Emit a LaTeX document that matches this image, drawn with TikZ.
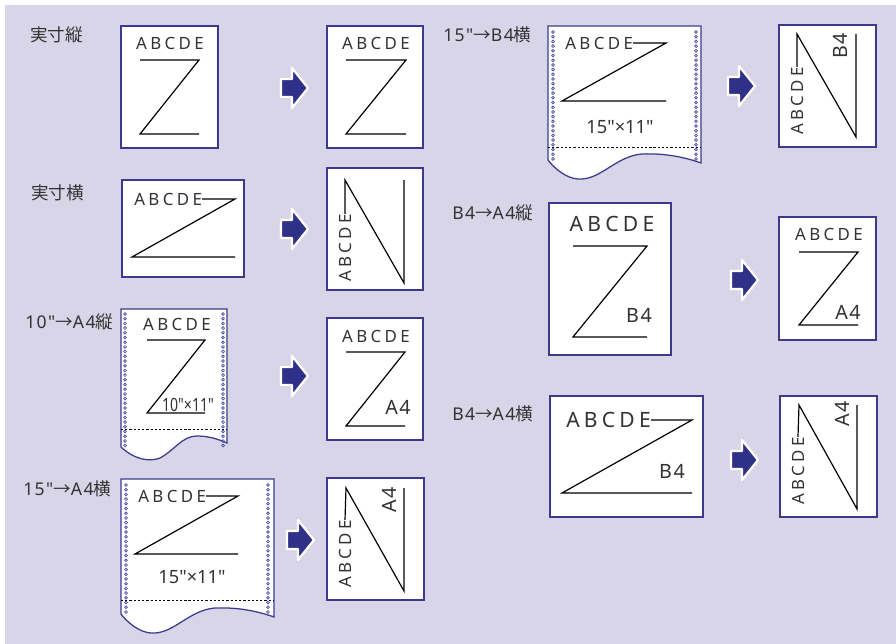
\documentclass[tikz,border=0pt]{standalone}
\usepackage{fontspec}
\setmainfont{Noto Sans CJK JP}
\newfontfamily\latinspaced[LetterSpace=20]{Noto Sans}
\newfontfamily\latinlabel[LetterSpace=8]{Noto Sans}
\newfontfamily\latinplain{Noto Sans}
\usetikzlibrary{positioning}
\definecolor{panelbg}{HTML}{D9D5E8}
\definecolor{sheetframe}{HTML}{3B3A8E}
\definecolor{arrowblue}{HTML}{2F3188}
\definecolor{holeblue}{HTML}{4A4AA8}
\definecolor{inkgray}{HTML}{333333}
\tikzset{
  sheet/.style={draw=sheetframe,fill=white,line width=0.9pt},
  zstroke/.style={line width=0.85pt,black},
  fold/.style={line width=0.6pt,dash pattern=on 1.6pt off 1.4pt},
  hole/.style={draw=holeblue,line width=0.5pt},
  fwd/.style={fill=arrowblue,draw=white,line width=1.6pt,line join=round},
  tag/.style={font=\fontsize{12.5}{14}\selectfont,text=inkgray,inner sep=0pt},
  abc/.style={font=\latinspaced\fontsize{12}{14}\selectfont,text=inkgray,inner sep=0pt},
  abcbig/.style={font=\latinspaced\fontsize{15}{17}\selectfont,text=inkgray,inner sep=0pt},
  papersize/.style={font=\latinlabel\fontsize{14}{16}\selectfont,text=inkgray,inner sep=0pt},
  inch/.style={font=\latinplain\fontsize{13}{15}\selectfont,text=inkgray,inner sep=0pt},
}
\newcommand{\pagearrow}[2]{\draw[fwd] (#1,#2-9) -- ++(11,0) -- ++(0,-11) -- (#1+27,#2) -- (#1+11,#2+20) -- ++(0,-11) -- (#1,#2+9) -- cycle;}

\begin{document}
\begin{tikzpicture}[x=0.025cm,y=-0.025cm]
\useasboundingbox (0,0) rectangle (896,644);
\fill[panelbg] (5,5) rectangle (896,644);

% 実寸縦
\node[tag,anchor=west] (lblReal) at (30,35) {実寸縦};
\draw[sheet] (121,26) rectangle (218,148);
\node[abc] (abcRealIn) at (170,43) {ABCDE};
\draw[zstroke] (140,60) -- (199,60) -- (140,134) -- (199,134);
\pagearrow{281}{88}
\draw[sheet] (327,26) rectangle (423,148);
\node[abc] (abcRealOut) at (376,43) {ABCDE};
\draw[zstroke] (346,60) -- (406,60) -- (346,134) -- (406,134);

% 実寸横
\node[tag,anchor=west] (lblRealLand) at (31,193) {実寸横};
\draw[sheet] (122,180) rectangle (244,277);
\node[abc,anchor=west] (abcLandIn) at (134,199) {ABCDE};
\draw[zstroke] (abcLandIn.east) -- (235,199) -- (132,257) -- (235,257);
\pagearrow{281}{229}
\draw[sheet] (327,168) rectangle (423,290);
\node[abc,rotate=90,anchor=west] (abcLandOut) at (345,282) {ABCDE};
\draw[zstroke] (abcLandOut.east) -- (345,180) -- (404,283) -- (404,180);

% 10"→A4縦 (fanfold sheet)
\node[tag,anchor=west] (lblTenA4) at (25,322) {{\latinlabel 10"}→{\latinlabel A4}縦};
\draw[sheet] (121,309) -- (121,447) .. controls (135,460) and (150,462) .. (160,458) .. controls (175,450) and (182,436) .. (197,436) .. controls (210,436) and (220,440) .. (227,443) -- (227,309) -- cycle;
\foreach \k in {0,...,28} {\draw[hole] (125,314+4.7*\k) circle (1.4); \draw[hole] (223,314+4.7*\k) circle (1.4);}
\draw[fold] (121,429) -- (227,429);
\node[abc] (abcTenIn) at (177,324) {ABCDE};
\draw[zstroke] (147,340) -- (205,340) -- (147,413) -- (205,413);
\node[inch,anchor=south] (szTen) at (188,412) {\scalebox{0.77}[1]{10"×11"}};
\pagearrow{281}{376}
\draw[sheet] (327,318) rectangle (423,440);
\node[abc] (abcTenOut) at (376,336) {ABCDE};
\draw[zstroke] (346,352) -- (405,352) -- (346,426) -- (405,426);
\node[papersize] (szTenOut) at (398,407) {A4};

% 15"→A4横 (fanfold sheet)
\node[tag,anchor=west] (lblFifA4) at (23,489) {{\latinlabel 15"}→{\latinlabel A4}横};
\draw[sheet] (121,479) -- (121,614) .. controls (132,628) and (145,634) .. (155,633) .. controls (175,632) and (190,610) .. (215,608) .. controls (240,607) and (260,612) .. (274,617) -- (274,479) -- cycle;
\foreach \k in {0,...,27} {\draw[hole] (126,485+4.7*\k) circle (1.4); \draw[hole] (268,485+4.7*\k) circle (1.4);}
\draw[fold] (121,600) -- (274,600);
\node[abc,anchor=west] (abcFifIn) at (138,496) {ABCDE};
\draw[zstroke] (abcFifIn.east) -- (238,496) -- (135,554) -- (238,554);
\node[inch] (szFif) at (192,577) {15"×11"};
\pagearrow{287}{540}
\draw[sheet] (327,478) rectangle (424,600);
\node[abc,rotate=90,anchor=west] (abcFifOut) at (345,588) {ABCDE};
\draw[zstroke] (abcFifOut.east) -- (346,488) -- (404,591) -- (404,488);
\node[papersize,rotate=90] (szFifOut) at (389,500) {A4};

% 15"→B4横 (fanfold sheet)
\node[tag,anchor=west] (lblFifB4) at (443,35) {{\latinlabel 15"}→{\latinlabel B4}横};
\draw[sheet] (548,26) -- (548,160) .. controls (559,174) and (572,180) .. (582,179) .. controls (602,178) and (617,156) .. (642,154) .. controls (667,153) and (687,158) .. (701,163) -- (701,26) -- cycle;
\foreach \k in {0,...,27} {\draw[hole] (553,32+4.7*\k) circle (1.4); \draw[hole] (696,32+4.7*\k) circle (1.4);}
\draw[fold] (548,147) -- (701,147);
\node[abc,anchor=west] (abcB4In) at (565,43) {ABCDE};
\draw[zstroke] (abcB4In.east) -- (666,43) -- (562,101) -- (666,101);
\node[inch] (szB4) at (620,127) {15"×11"};
\pagearrow{728}{86}
\draw[sheet] (779,25) rectangle (876,147);
\node[abc,rotate=90,anchor=west] (abcB4Out) at (797,135) {ABCDE};
\draw[zstroke] (abcB4Out.east) -- (797,34) -- (856,137) -- (856,34);
\node[papersize,rotate=90] (szB4Out) at (840,46) {B4};

% B4→A4縦
\node[tag,anchor=west] (lblB4Port) at (452,213) {{\latinlabel B4}→{\latinlabel A4}縦};
\draw[sheet] (549,203) rectangle (671,355);
\node[abcbig] (abcBPIn) at (612,224) {ABCDE};
\draw[zstroke] (573,246) -- (647,246) -- (573,337) -- (647,337);
\node[papersize] (szBPIn) at (639,315) {B4};
\pagearrow{731}{280}
\draw[sheet] (779,217) rectangle (876,340);
\node[abc] (abcBPOut) at (829,234) {ABCDE};
\draw[zstroke] (799,252) -- (858,252) -- (799,325) -- (858,325);
\node[papersize] (szBPOut) at (848,312) {A4};

% B4→A4横
\node[tag,anchor=west] (lblB4Land) at (452,414) {{\latinlabel B4}→{\latinlabel A4}横};
\draw[sheet] (550,396) rectangle (703,517);
\node[abcbig,anchor=west] (abcBLIn) at (566,420) {ABCDE};
\draw[zstroke] (abcBLIn.east) -- (692,420) -- (562,493) -- (692,493);
\node[papersize] (szBLIn) at (672,471) {B4};
\pagearrow{731}{460}
\draw[sheet] (780,396) rectangle (877,517);
\node[abc,rotate=90,anchor=west] (abcBLOut) at (798,505) {ABCDE};
\draw[zstroke] (abcBLOut.east) -- (799,405) -- (857,509) -- (857,405);
\node[papersize,rotate=90] (szBLOut) at (842,414) {A4};
\end{tikzpicture}
\end{document}
